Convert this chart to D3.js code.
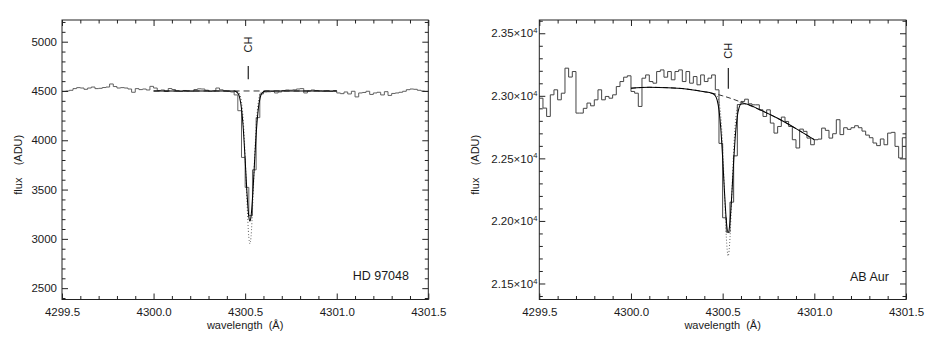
<!DOCTYPE html>
<html><head><meta charset="utf-8">
<script src="https://cdn.jsdelivr.net/npm/d3@7"></script>
<style>
body{margin:0;background:#fff}
svg{display:block}
text{font-family:"Liberation Sans",Arial,Helvetica,sans-serif;fill:#1a1a1a}
</style>
</head><body>
<svg id="c" width="926" height="342"></svg>
<script>
// ---------- data ----------
const binStart = 4299.5, binWidth = 0.02;
const xTicks = [4299.5, 4300.0, 4300.5, 4301.0, 4301.5];

// HD 97048 observed spectrum (ADU), one value per 0.02 Å bin
const leftFlux = [4497,4500,4507,4524,4534,4530,4517,4530,4540,4524,
  4527,4535,4540,4571,4545,4530,4534,4530,4520,4487,
  4524,4514,4520,4510,4547,4530,4505,4510,4495,4525,
  4515,4500,4495,4505,4500,4498,4515,4522,4520,4508,
  4496,4500,4530,4512,4500,4497,4490,4460,4300,3826,
  3522,3236,3700,4230,4470,4490,4492,4495,4480,4490,
  4505,4510,4508,4512,4520,4524,4480,4500,4510,4505,
  4500,4498,4500,4495,4502,4480,4473,4490,4470,4497,
  4440,4480,4485,4497,4465,4480,4487,4460,4493,4455,
  4475,4480,4487,4497,4513,4520,4517,4507,4500,4497];
const leftContinuum = [[4300.0,4500],[4301.0,4500]];
const leftFit = [[4300.00,4500],[4300.40,4500],[4300.44,4499],[4300.46,4478],[4300.47,4432],
  [4300.48,4321],[4300.49,4112],[4300.50,3803],[4300.51,3464],[4300.52,3225],[4300.526,3180],
  [4300.532,3225],[4300.542,3464],[4300.552,3803],[4300.562,4112],[4300.572,4321],
  [4300.582,4432],[4300.592,4478],[4300.612,4499],[4300.65,4500],[4301.00,4500]];
const leftIntrinsic = [[4300.44,4500],[4300.46,4493],[4300.47,4469],[4300.48,4390],[4300.49,4193],
  [4300.50,3834],[4300.51,3375],[4300.52,3018],[4300.526,2950],[4300.532,3018],[4300.542,3375],
  [4300.552,3834],[4300.562,4193],[4300.572,4390],[4300.582,4469],[4300.592,4493],[4300.612,4500]];
const leftYTicks = [2500,3000,3500,4000,4500,5000];

// AB Aur observed spectrum (ADU)
const rightFlux = [22981,22902,22835,23008,23048,22968,23021,23221,23150,23194,
  22862,22862,22900,22942,22920,22968,23048,22968,22995,22981,
  23008,23074,23114,23149,23160,23035,23021,22915,23141,23167,
  23114,23101,23194,23207,23149,23194,23128,23194,23207,23114,
  23194,23101,23154,23088,23167,23114,23141,23167,23048,22620,
  22025,21910,22150,22520,22930,22955,22973,22936,22928,22928,
  22888,22835,22888,22782,22702,22755,22830,22795,22755,22649,
  22583,22734,22716,22662,22609,22649,22654,22742,22724,22662,
  22697,22809,22690,22745,22732,22745,22761,22745,22718,22686,
  22665,22623,22602,22655,22609,22702,22708,22596,22503,22665];
const rightContinuum = [[4300.00,23061],[4300.10,23068],[4300.20,23065],[4300.30,23055],
  [4300.40,23033],[4300.50,23000],[4300.60,22950],[4300.70,22890],[4300.80,22820],
  [4300.90,22738],[4301.00,22649]];
const rightFit = [[4300.00,23061],[4300.10,23068],[4300.20,23065],[4300.30,23055],[4300.40,23033],
  [4300.44,23021],[4300.46,23001],[4300.47,22966],[4300.48,22887],[4300.49,22737],[4300.50,22505],
  [4300.51,22233],[4300.52,22001],[4300.53,21906],[4300.54,21991],[4300.55,22212],[4300.56,22475],
  [4300.57,22696],[4300.58,22837],[4300.59,22908],[4300.60,22935],[4300.62,22937],[4300.70,22890],
  [4300.80,22820],[4300.90,22738],[4301.00,22649]];
const rightIntrinsic = [[4300.46,23016],[4300.47,22999],[4300.48,22954],[4300.49,22835],[4300.50,22589],
  [4300.51,22227],[4300.52,21873],[4300.53,21719],[4300.54,21863],[4300.55,22206],[4300.56,22559],
  [4300.57,22794],[4300.58,22904],[4300.59,22941],[4300.60,22950]];
const rightYTicks = [21500,22000,22500,23000,23500];

const starNames = ["HD 97048","AB Aur"];
const lineLabel = "CH";
const lineWavelengths = [4300.517, 4300.531];
const markerFlux = [[4618,4753],[23056,23223]];

// ---------- drawing ----------
const svg = d3.select("#c");
const panels = [
  {x0:62, x1:428.3, yDom:[2385,5220], flux:leftFlux, cont:leftContinuum, fit:leftFit, intr:leftIntrinsic,
   yTicks:leftYTicks, yMinorStep:100, sci:false, name:starNames[0], nameX:352.7, nameY:279.5,
   lam:lineWavelengths[0], mk:markerFlux[0], chY:44.5, titleX:21.5, pad:5, dash:"6,4", histColor:"#606060"},
  {x0:539.3, x1:906, yDom:[21372,23606], flux:rightFlux, cont:rightContinuum, fit:rightFit, intr:rightIntrinsic,
   yTicks:rightYTicks, yMinorStep:100, sci:true, name:starNames[1], nameX:850, nameY:281,
   lam:lineWavelengths[1], mk:markerFlux[1], chY:50.8, titleX:479, pad:2, dash:"5,3", histColor:"#444"}
];
const plotTop = 20, plotBottom = 299.5;

panels.forEach((p, k) => {
  const x = d3.scaleLinear().domain([4299.5, 4301.5]).range([p.x0, p.x1]);
  const y = d3.scaleLinear().domain(p.yDom).range([plotBottom, plotTop]);
  const g = svg.append("g");
  const clipId = "clip" + k;
  svg.append("clipPath").attr("id", clipId).append("rect")
    .attr("x", p.x0).attr("y", plotTop).attr("width", p.x1 - p.x0).attr("height", plotBottom - plotTop);

  const plot = g.append("g").attr("clip-path", `url(#${clipId})`);
  const hist = p.flux.map((v, i) => [binStart + i * binWidth, v]);
  hist.push([binStart + p.flux.length * binWidth, p.flux[p.flux.length - 1]]);
  plot.append("path").datum(hist)
    .attr("d", d3.line().x(d => x(d[0])).y(d => y(d[1])).curve(d3.curveStepAfter))
    .attr("fill", "none").attr("stroke", p.histColor).attr("stroke-width", 1);
  plot.append("path").datum(p.intr)
    .attr("d", d3.line().x(d => x(d[0])).y(d => y(d[1])).curve(d3.curveMonotoneX))
    .attr("fill", "none").attr("stroke", "#555").attr("stroke-width", 0.9)
    .attr("stroke-dasharray", "1,2");
  plot.append("path").datum(p.cont)
    .attr("d", d3.line().x(d => x(d[0])).y(d => y(d[1])).curve(d3.curveMonotoneX))
    .attr("fill", "none").attr("stroke", "#333").attr("stroke-width", 1)
    .attr("stroke-dasharray", p.dash);
  plot.append("path").datum(p.fit)
    .attr("d", d3.line().x(d => x(d[0])).y(d => y(d[1])).curve(d3.curveMonotoneX))
    .attr("fill", "none").attr("stroke", "#000").attr("stroke-width", 1.05);

  g.append("rect").attr("x", p.x0).attr("y", plotTop).attr("width", p.x1 - p.x0).attr("height", plotBottom - plotTop)
    .attr("fill", "none").attr("stroke", "#222").attr("stroke-width", 1);

  const xMinor = d3.range(4299.6, 4301.5, 0.1).filter(v => Math.abs((v * 2) - Math.round(v * 2)) > 1e-6);
  const yMinor = d3.range(Math.ceil(p.yDom[0] / 100) * 100, p.yDom[1], p.yMinorStep)
    .filter(v => v % 500 !== 0);
  const styleAxis = sel => { sel.select(".domain").remove(); sel.selectAll("line").attr("stroke", "#222"); };
  const font = '"Liberation Sans",Arial,sans-serif';

  g.append("g").attr("transform", `translate(0,${plotBottom})`)
    .call(d3.axisBottom(x).tickValues(xTicks).tickSize(-6).tickPadding(8).tickFormat(d3.format(".1f")))
    .call(styleAxis)
    .selectAll("text").attr("font-size", "11.5px").attr("font-family", font).attr("fill", "#1a1a1a");
  g.append("g").attr("transform", `translate(0,${plotBottom})`)
    .call(d3.axisBottom(x).tickValues(xMinor).tickSize(-3.5).tickFormat("")).call(styleAxis);
  g.append("g").attr("transform", `translate(0,${plotTop})`)
    .call(d3.axisTop(x).tickValues(xTicks).tickSize(-6).tickFormat("")).call(styleAxis);
  g.append("g").attr("transform", `translate(0,${plotTop})`)
    .call(d3.axisTop(x).tickValues(xMinor).tickSize(-3.5).tickFormat("")).call(styleAxis);

  const yAx = g.append("g").attr("transform", `translate(${p.x0},0)`)
    .call(d3.axisLeft(y).tickValues(p.yTicks).tickSize(-6).tickPadding(p.pad)
      .tickFormat(p.sci ? (d => d3.format(".2f")(d / 1e4)) : d3.format("d")))
    .call(styleAxis);
  yAx.selectAll("text").attr("font-size", "11.5px").attr("font-family", font).attr("fill", "#1a1a1a");
  if (p.sci) {
    yAx.selectAll("text").each(function(d) {
      const t = d3.select(this);
      const m = d3.format(".2f")(d / 1e4);
      t.text(null);
      t.append("tspan").text(m + "\u00d710");
      t.append("tspan").attr("font-size", "7.5px").attr("dy", "-0.55em").text("4");
    });
  }
  g.append("g").attr("transform", `translate(${p.x0},0)`)
    .call(d3.axisLeft(y).tickValues(yMinor).tickSize(-3.5).tickFormat("")).call(styleAxis);
  g.append("g").attr("transform", `translate(${p.x1},0)`)
    .call(d3.axisRight(y).tickValues(p.yTicks).tickSize(-6).tickFormat("")).call(styleAxis);
  g.append("g").attr("transform", `translate(${p.x1},0)`)
    .call(d3.axisRight(y).tickValues(yMinor).tickSize(-3.5).tickFormat("")).call(styleAxis);

  g.append("text").attr("x", (p.x0 + p.x1) / 2).attr("y", 328.5).attr("text-anchor", "middle")
    .attr("font-size", "11px").style("white-space", "pre").text("wavelength  (\u00c5)");
  g.append("text").attr("transform", `translate(${p.titleX},${(plotTop + plotBottom) / 2 + 5}) rotate(-90)`)
    .attr("text-anchor", "middle").attr("font-size", "11px").style("white-space", "pre")
    .text("flux    (ADU)");

  g.append("text").attr("x", p.nameX).attr("y", p.nameY).attr("font-size", "12.5px").text(p.name);

  const mx = x(p.lam);
  g.append("line").attr("x1", mx).attr("x2", mx).attr("y1", y(p.mk[0])).attr("y2", y(p.mk[1]))
    .attr("stroke", "#222").attr("stroke-width", 1.2);
  g.append("text").attr("transform", `translate(${mx + 3.5},${p.chY}) rotate(-90)`)
    .attr("text-anchor", "middle").attr("font-size", "11px").text(lineLabel);
});
</script>
</body></html>
